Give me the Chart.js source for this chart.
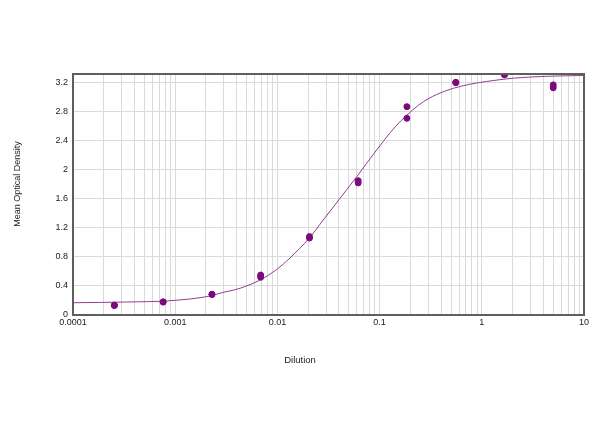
<!DOCTYPE html>
<html>
<head>
<meta charset="utf-8">
<title>Mean Optical Density vs Dilution</title>
<script src="https://cdn.jsdelivr.net/npm/chart.js@4.4.1/dist/chart.umd.min.js"></script>
<style>
  html, body { margin: 0; padding: 0; background: #fff; }
  #odChart { display: block; }
</style>
</head>
<body>
<canvas id="odChart" width="600" height="447"></canvas>
<script>
// dilutions of the standard series (two replicates each)
const dilutions = [0.000254, 0.000762, 0.00229, 0.00686, 0.0206, 0.0617, 0.185, 0.556, 1.667, 5];
const odRep1 = [0.130, 0.178, 0.282, 0.550, 1.080, 1.850, 2.870, 3.200, 3.310, 3.170];
const odRep2 = [0.136, 0.181, 0.286, 0.520, 1.060, 1.820, 2.710, 3.205, 3.315, 3.130];

// fitted curve
const fitX = [0.0001, 0.000335, 0.00089, 0.0022, 0.00274, 0.0043, 0.00676, 0.00985, 0.01327, 0.0204,
              0.0281, 0.041, 0.0597, 0.0935, 0.1416, 0.184, 0.239, 0.30, 0.437, 0.636,
              0.925, 1.346, 2.02, 4.3, 10];
const fitY = [0.169, 0.179, 0.197, 0.262, 0.300, 0.368, 0.482, 0.628, 0.785, 1.056,
              1.309, 1.607, 1.905, 2.273, 2.590, 2.750, 2.888, 2.980, 3.085, 3.154,
              3.200, 3.233, 3.262, 3.288, 3.300];

// axis ticks
const xDecades = [0.0001, 0.001, 0.01, 0.1, 1, 10];
const xTickLabels = ["0.0001", "0.001", "0.01", "0.1", "1", "10"];
const xMinorSteps = [2, 3, 4, 5, 6, 7, 8, 9];
const yTicks = [0, 0.4, 0.8, 1.2, 1.6, 2, 2.4, 2.8, 3.2];

const FONT = "Arial, 'Liberation Sans', sans-serif";

// frame round the plot + axis titles
const framePlugin = {
  id: "frameAndTitles",
  afterDraw(chart) {
    const { ctx, chartArea: a } = chart;
    ctx.save();
    ctx.strokeStyle = "#5e5e5e";
    ctx.lineWidth = 2;
    ctx.strokeRect(a.left, a.top, a.right - a.left, a.bottom - a.top);

    ctx.fillStyle = "#222";
    ctx.textAlign = "center";
    ctx.textBaseline = "middle";
    ctx.font = "9.5px " + FONT;
    ctx.fillText("Dilution", 300, 360);

    ctx.translate(18, 184);
    ctx.rotate(-Math.PI / 2);
    ctx.font = "9px " + FONT;
    ctx.fillText("Mean Optical Density", 0, 0);
    ctx.restore();
  }
};

const ctx = document.getElementById("odChart").getContext("2d");

new Chart(ctx, {
  type: "scatter",
  data: {
    datasets: [
      {
        label: "Fit",
        type: "line",
        data: fitX.map((x, i) => ({ x, y: fitY[i] })),
        borderColor: "#933c93",
        borderWidth: 1,
        pointRadius: 0,
        cubicInterpolationMode: "monotone",
        fill: false,
        order: 2
      },
      {
        label: "Replicate 1",
        data: dilutions.map((x, i) => ({ x, y: odRep1[i] })),
        backgroundColor: "#7d0a7d",
        borderColor: "#7d0a7d",
        pointRadius: 3,
        order: 1
      },
      {
        label: "Replicate 2",
        data: dilutions.map((x, i) => ({ x, y: odRep2[i] })),
        backgroundColor: "#7d0a7d",
        borderColor: "#7d0a7d",
        pointRadius: 3,
        order: 1
      }
    ]
  },
  options: {
    responsive: false,
    animation: false,
    devicePixelRatio: 1,
    layout: { padding: { top: 74, right: 16, left: 0, bottom: 112 } },
    plugins: {
      legend: { display: false },
      tooltip: { enabled: false }
    },
    scales: {
      x: {
        type: "logarithmic",
        min: 0.0001,
        max: 10,
        afterBuildTicks(scale) {
          const ticks = [];
          xDecades.forEach((d, i) => {
            ticks.push({ value: d, major: true });
            if (i < xDecades.length - 1) {
              xMinorSteps.forEach(m => ticks.push({ value: m * d, major: false }));
            }
          });
          scale.ticks = ticks;
        },
        afterFit(scale) { scale.height = 20; },
        grid: { color: "#dadada", lineWidth: 1, drawTicks: false },
        border: { display: false },
        ticks: {
          autoSkip: false,
          maxRotation: 0,
          padding: 2,
          color: "#222",
          font: { family: FONT, size: 9 },
          callback(value) {
            const i = xDecades.indexOf(value);
            return i >= 0 ? xTickLabels[i] : "";
          }
        }
      },
      y: {
        type: "linear",
        min: 0,
        max: 3.32,
        afterBuildTicks(scale) {
          scale.ticks = yTicks.map(v => ({ value: v }));
        },
        afterFit(scale) { scale.width = 73; },
        grid: { color: "#dadada", lineWidth: 1, drawTicks: false },
        border: { display: false },
        ticks: {
          padding: 5,
          color: "#222",
          font: { family: FONT, size: 9 },
          callback: v => String(Number(v.toFixed(1)))
        }
      }
    }
  },
  plugins: [framePlugin]
});
</script>
</body>
</html>
